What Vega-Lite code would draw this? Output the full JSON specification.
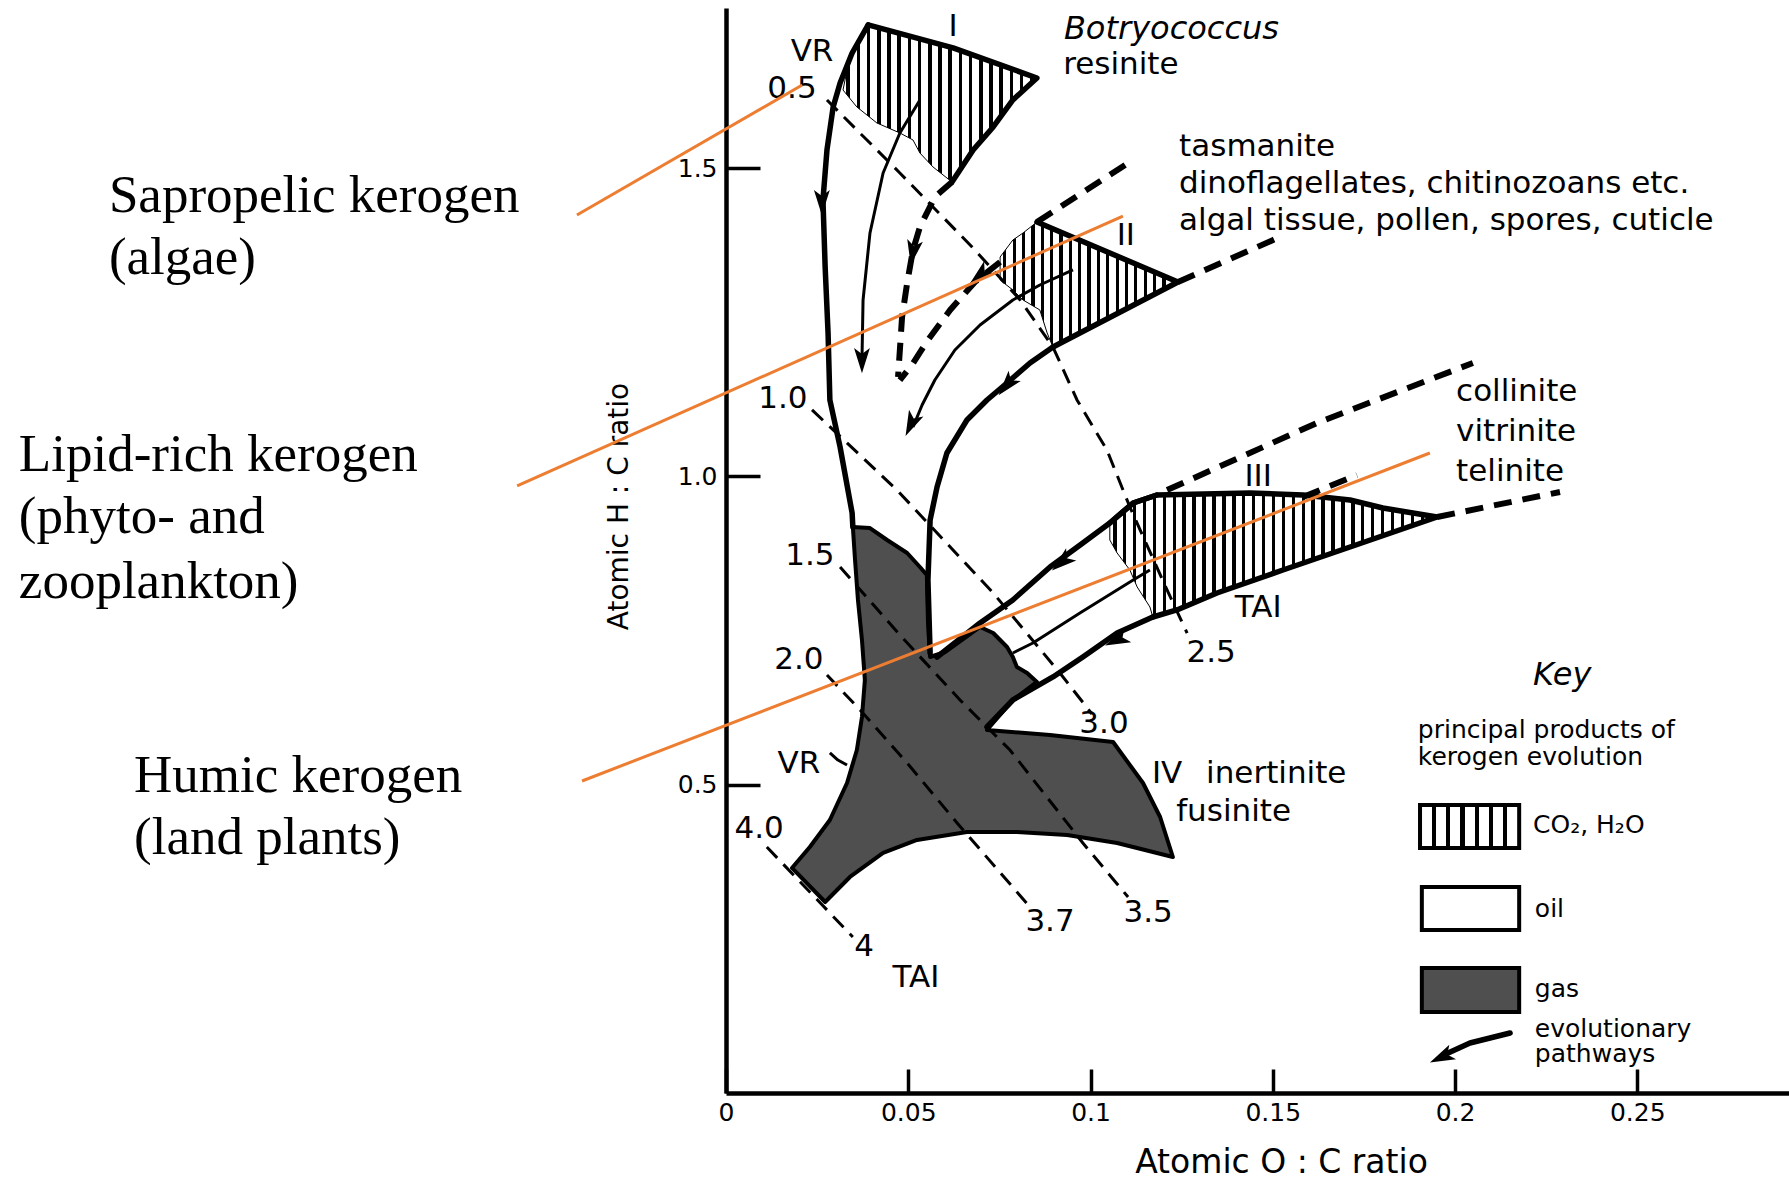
{
  "$schema": "https://vega.github.io/schema/vega-lite/v6.json",
  "width": 1064,
  "height": 1085,
  "autosize": {"type": "none"},
  "padding": {"left": 726, "top": 8, "right": 0, "bottom": 87},
  "background": "white",
  "config": {
    "view": {"stroke": null},
    "axis": {"domainColor": "black", "domainWidth": 4.5, "tickColor": "black", "tickWidth": 3.5, "labelColor": "black", "labelFont": "DejaVu Sans", "titleFont": "DejaVu Sans", "titleColor": "black", "titleFontWeight": "normal", "labelFlush": false, "grid": false}
  },
  "datasets": {
    "hatchI": [
      {"i":0,"x":0.0390,"y":1.7324},{"i":1,"x":0.0623,"y":1.6951},{"i":2,"x":0.0853,"y":1.6464},{"i":3,"x":0.0787,"y":1.6107},{"i":4,"x":0.0733,"y":1.5669},{"i":5,"x":0.0678,"y":1.5296},{"i":6,"x":0.0620,"y":1.4777},{"i":7,"x":0.0568,"y":1.5020},{"i":8,"x":0.0532,"y":1.5247},{"i":9,"x":0.0513,"y":1.5458},{"i":10,"x":0.0477,"y":1.5572},{"i":11,"x":0.0414,"y":1.5734},{"i":12,"x":0.0359,"y":1.5994},{"i":13,"x":0.0321,"y":1.6269},{"i":14,"x":0.0335,"y":1.6675}
    ],
    "hatchII": [
      {"i":0,"x":0.0853,"y":1.4128},{"i":1,"x":0.1240,"y":1.3155},{"i":2,"x":0.0897,"y":1.2100},{"i":3,"x":0.0881,"y":1.2328},{"i":4,"x":0.0861,"y":1.2701},{"i":5,"x":0.0815,"y":1.2863},{"i":6,"x":0.0787,"y":1.3025},{"i":7,"x":0.0752,"y":1.3187},{"i":8,"x":0.0752,"y":1.3560},{"i":9,"x":0.0787,"y":1.3836},{"i":10,"x":0.0815,"y":1.3950}
    ],
    "hatchIII": [
      {"i":0,"x":0.1053,"y":0.9246},{"i":1,"x":0.1117,"y":0.9570},{"i":2,"x":0.1182,"y":0.9700},{"i":3,"x":0.1438,"y":0.9732},{"i":4,"x":0.1583,"y":0.9700},{"i":5,"x":0.1712,"y":0.9619},{"i":6,"x":0.1802,"y":0.9489},{"i":7,"x":0.1951,"y":0.9343},{"i":8,"x":0.1712,"y":0.8856},{"i":9,"x":0.1528,"y":0.8483},{"i":10,"x":0.1347,"y":0.8110},{"i":11,"x":0.1237,"y":0.7835},{"i":12,"x":0.1171,"y":0.7721},{"i":13,"x":0.1163,"y":0.7883},{"i":14,"x":0.1128,"y":0.8208},{"i":15,"x":0.1108,"y":0.8483},{"i":16,"x":0.1073,"y":0.8759},{"i":17,"x":0.1053,"y":0.8970}
    ],
    "gas": [
      {"i":0,"x":0.0348,"y":0.9181},{"i":1,"x":0.0395,"y":0.9164},{"i":2,"x":0.0442,"y":0.8970},{"i":3,"x":0.0497,"y":0.8759},{"i":4,"x":0.0532,"y":0.8532},{"i":5,"x":0.0551,"y":0.8402},{"i":6,"x":0.0554,"y":0.7672},{"i":7,"x":0.0560,"y":0.7072},{"i":8,"x":0.0601,"y":0.7153},{"i":9,"x":0.0697,"y":0.7559},{"i":10,"x":0.0733,"y":0.7461},{"i":11,"x":0.0771,"y":0.7234},{"i":12,"x":0.0787,"y":0.7072},{"i":13,"x":0.0798,"y":0.6910},{"i":14,"x":0.0826,"y":0.6813},{"i":15,"x":0.0853,"y":0.6667},{"i":16,"x":0.0787,"y":0.6375},{"i":17,"x":0.0716,"y":0.5888},{"i":18,"x":0.0889,"y":0.5807},{"i":19,"x":0.1062,"y":0.5693},{"i":20,"x":0.1144,"y":0.5028},{"i":21,"x":0.1191,"y":0.4477},{"i":22,"x":0.1226,"y":0.3828},{"i":23,"x":0.1073,"y":0.4055},{"i":24,"x":0.0936,"y":0.4185},{"i":25,"x":0.0798,"y":0.4234},{"i":26,"x":0.0661,"y":0.4234},{"i":27,"x":0.0524,"y":0.4104},{"i":28,"x":0.0431,"y":0.3893},{"i":29,"x":0.0340,"y":0.3504},{"i":30,"x":0.0272,"y":0.3098},{"i":31,"x":0.0181,"y":0.3650},{"i":32,"x":0.0230,"y":0.3990},{"i":33,"x":0.0285,"y":0.4428},{"i":34,"x":0.0332,"y":0.5028},{"i":35,"x":0.0359,"y":0.5564},{"i":36,"x":0.0373,"y":0.6099},{"i":37,"x":0.0381,"y":0.6699},{"i":38,"x":0.0373,"y":0.7348},{"i":39,"x":0.0362,"y":0.7997},{"i":40,"x":0.0354,"y":0.8646}
    ],
    "isolines": [
      {"id":"VR0.5-TAI2.5","i":0,"x":0.0277,"y":1.6107},{"id":"VR0.5-TAI2.5","i":1,"x":0.0477,"y":1.4923},{"id":"VR0.5-TAI2.5","i":2,"x":0.0675,"y":1.3723},{"id":"VR0.5-TAI2.5","i":3,"x":0.0807,"y":1.2863},{"id":"VR0.5-TAI2.5","i":4,"x":0.0897,"y":1.2100},{"id":"VR0.5-TAI2.5","i":5,"x":0.0963,"y":1.1241},{"id":"VR0.5-TAI2.5","i":6,"x":0.1045,"y":1.0430},{"id":"VR0.5-TAI2.5","i":7,"x":0.1108,"y":0.9505},{"id":"VR0.5-TAI2.5","i":8,"x":0.1210,"y":0.8159},{"id":"VR0.5-TAI2.5","i":9,"x":0.1265,"y":0.7461},
      {"id":"VR1.0-TAI3.0","i":0,"x":0.0236,"y":1.1079},{"id":"VR1.0-TAI3.0","i":1,"x":0.0469,"y":0.9781},{"id":"VR1.0-TAI3.0","i":2,"x":0.0733,"y":0.8110},{"id":"VR1.0-TAI3.0","i":3,"x":0.0916,"y":0.6813},{"id":"VR1.0-TAI3.0","i":4,"x":0.1004,"y":0.6148},
      {"id":"VR1.5-TAI3.5","i":0,"x":0.0313,"y":0.8532},{"id":"VR1.5-TAI3.5","i":1,"x":0.0477,"y":0.7429},{"id":"VR1.5-TAI3.5","i":2,"x":0.0642,"y":0.6375},{"id":"VR1.5-TAI3.5","i":3,"x":0.0779,"y":0.5564},{"id":"VR1.5-TAI3.5","i":4,"x":0.0979,"y":0.4055},{"id":"VR1.5-TAI3.5","i":5,"x":0.1103,"y":0.3179},
      {"id":"VR2.0-TAI3.7","i":0,"x":0.0277,"y":0.6780},{"id":"VR2.0-TAI3.7","i":1,"x":0.0368,"y":0.6212},{"id":"VR2.0-TAI3.7","i":2,"x":0.0497,"y":0.5353},{"id":"VR2.0-TAI3.7","i":3,"x":0.0634,"y":0.4380},{"id":"VR2.0-TAI3.7","i":4,"x":0.0834,"y":0.3017},
      {"id":"VR4.0-TAI4","i":0,"x":0.0112,"y":0.3990},{"id":"VR4.0-TAI4","i":1,"x":0.0348,"y":0.2530}
    ],
    "thinPaths": [
      {"id":"P2","i":0,"x":0.0532,"y":1.6107},{"id":"P2","i":1,"x":0.0477,"y":1.5572},{"id":"P2","i":2,"x":0.0431,"y":1.4923},{"id":"P2","i":3,"x":0.0395,"y":1.3950},{"id":"P2","i":4,"x":0.0376,"y":1.2863},{"id":"P2","i":5,"x":0.0373,"y":1.1890},
      {"id":"P4","i":0,"x":0.0952,"y":1.3350},{"id":"P4","i":1,"x":0.0861,"y":1.3106},{"id":"P4","i":2,"x":0.0787,"y":1.2863},{"id":"P4","i":3,"x":0.0697,"y":1.2457},{"id":"P4","i":4,"x":0.0628,"y":1.2052},{"id":"P4","i":5,"x":0.0573,"y":1.1565},{"id":"P4","i":6,"x":0.0538,"y":1.1160},{"id":"P4","i":7,"x":0.0513,"y":1.0803},
      {"id":"P7","i":0,"x":0.1163,"y":0.8483},{"id":"P7","i":1,"x":0.1117,"y":0.8321},{"id":"P7","i":2,"x":0.0971,"y":0.7786},{"id":"P7","i":3,"x":0.0842,"y":0.7299},{"id":"P7","i":4,"x":0.0787,"y":0.7137},
      {"id":"VRleader","i":0,"x":0.0285,"y":0.5515},{"id":"VRleader","i":1,"x":0.0307,"y":0.5401},{"id":"VRleader","i":2,"x":0.0332,"y":0.5320}
    ],
    "thickPaths": [
      {"id":"P1","i":0,"x":0.0390,"y":1.7324},{"id":"P1","i":1,"x":0.0346,"y":1.6869},{"id":"P1","i":2,"x":0.0313,"y":1.6383},{"id":"P1","i":3,"x":0.0294,"y":1.5994},{"id":"P1","i":4,"x":0.0277,"y":1.5296},{"id":"P1","i":5,"x":0.0266,"y":1.4485},{"id":"P1","i":6,"x":0.0272,"y":1.3398},{"id":"P1","i":7,"x":0.0280,"y":1.2328},{"id":"P1","i":8,"x":0.0285,"y":1.1241},{"id":"P1","i":9,"x":0.0313,"y":1.0478},{"id":"P1","i":10,"x":0.0346,"y":0.9408},{"id":"P1","i":11,"x":0.0348,"y":0.9181},
      {"id":"P5","i":0,"x":0.0897,"y":1.2100},{"id":"P5","i":1,"x":0.0834,"y":1.1841},{"id":"P5","i":2,"x":0.0771,"y":1.1517},{"id":"P5","i":3,"x":0.0716,"y":1.1241},{"id":"P5","i":4,"x":0.0661,"y":1.0917},{"id":"P5","i":5,"x":0.0606,"y":1.0381},{"id":"P5","i":6,"x":0.0579,"y":0.9830},{"id":"P5","i":7,"x":0.0560,"y":0.9295},{"id":"P5","i":8,"x":0.0554,"y":0.8321},{"id":"P5","i":9,"x":0.0560,"y":0.7137},
      {"id":"P6","i":0,"x":0.1182,"y":0.9700},{"id":"P6","i":1,"x":0.1117,"y":0.9570},{"id":"P6","i":2,"x":0.1053,"y":0.9246},{"id":"P6","i":3,"x":0.0979,"y":0.8921},{"id":"P6","i":4,"x":0.0889,"y":0.8532},{"id":"P6","i":5,"x":0.0787,"y":0.7997},{"id":"P6","i":6,"x":0.0697,"y":0.7624},{"id":"P6","i":7,"x":0.0579,"y":0.7072},
      {"id":"P8","i":0,"x":0.1171,"y":0.7721},{"id":"P8","i":1,"x":0.1073,"y":0.7461},{"id":"P8","i":2,"x":0.0979,"y":0.7072},{"id":"P8","i":3,"x":0.0897,"y":0.6748},{"id":"P8","i":4,"x":0.0787,"y":0.6375},{"id":"P8","i":5,"x":0.0716,"y":0.5937},
      {"id":"Iedge","i":0,"x":0.0390,"y":1.7324},{"id":"Iedge","i":1,"x":0.0623,"y":1.6951},{"id":"Iedge","i":2,"x":0.0853,"y":1.6464},{"id":"Iedge","i":3,"x":0.0787,"y":1.6107},{"id":"Iedge","i":4,"x":0.0733,"y":1.5669},{"id":"Iedge","i":5,"x":0.0678,"y":1.5296},{"id":"Iedge","i":6,"x":0.0620,"y":1.4777},
      {"id":"IIedge","i":0,"x":0.0853,"y":1.4128},{"id":"IIedge","i":1,"x":0.1240,"y":1.3155},{"id":"IIedge","i":2,"x":0.0897,"y":1.2100},
      {"id":"IIIedge","i":0,"x":0.1053,"y":0.9246},{"id":"IIIedge","i":1,"x":0.1117,"y":0.9570},{"id":"IIIedge","i":2,"x":0.1182,"y":0.9700},{"id":"IIIedge","i":3,"x":0.1438,"y":0.9732},{"id":"IIIedge","i":4,"x":0.1583,"y":0.9700},{"id":"IIIedge","i":5,"x":0.1712,"y":0.9619},{"id":"IIIedge","i":6,"x":0.1802,"y":0.9489},{"id":"IIIedge","i":7,"x":0.1951,"y":0.9343},{"id":"IIIedge","i":8,"x":0.1712,"y":0.8856},{"id":"IIIedge","i":9,"x":0.1528,"y":0.8483},{"id":"IIIedge","i":10,"x":0.1347,"y":0.8110},{"id":"IIIedge","i":11,"x":0.1237,"y":0.7835},{"id":"IIIedge","i":12,"x":0.1171,"y":0.7721},
      {"id":"keyArrow","i":0,"x":0.2151,"y":0.0973},{"id":"keyArrow","i":1,"x":0.2041,"y":0.0811},{"id":"keyArrow","i":2,"x":0.1981,"y":0.0649}
    ],
    "dashedPaths": [
      {"id":"P3","i":0,"x":0.0620,"y":1.4777},{"id":"P3","i":1,"x":0.0573,"y":1.4534},{"id":"P3","i":2,"x":0.0532,"y":1.4047},{"id":"P3","i":3,"x":0.0513,"y":1.3674},{"id":"P3","i":4,"x":0.0497,"y":1.3139},{"id":"P3","i":5,"x":0.0483,"y":1.2587},{"id":"P3","i":6,"x":0.0477,"y":1.2052},{"id":"P3","i":7,"x":0.0472,"y":1.1614},
      {"id":"P4d","i":0,"x":0.0752,"y":1.3479},{"id":"P4d","i":1,"x":0.0683,"y":1.3155},{"id":"P4d","i":2,"x":0.0615,"y":1.2701},{"id":"P4d","i":3,"x":0.0554,"y":1.2214},{"id":"P4d","i":4,"x":0.0510,"y":1.1809},{"id":"P4d","i":5,"x":0.0477,"y":1.1565},
      {"id":"D1","i":0,"x":0.0853,"y":1.4128},{"id":"D1","i":1,"x":0.1108,"y":1.5101},
      {"id":"D2","i":0,"x":0.1240,"y":1.3155},{"id":"D2","i":1,"x":0.1520,"y":1.3885},
      {"id":"D3","i":0,"x":0.1210,"y":0.9781},{"id":"D3","i":1,"x":0.1621,"y":1.0868},{"id":"D3","i":2,"x":0.2049,"y":1.1841},
      {"id":"D4","i":0,"x":0.1951,"y":0.9343},{"id":"D4","i":1,"x":0.2288,"y":0.9749},
      {"id":"P7ext","i":0,"x":0.1583,"y":0.9667},{"id":"P7ext","i":1,"x":0.1731,"y":1.0024}
    ],
    "arrows": [
      {"x":0.0263,"y":1.4453,"heading":180},{"x":0.0373,"y":1.1890,"heading":180},{"x":0.0513,"y":1.3641,"heading":190},{"x":0.0508,"y":1.0852,"heading":205},{"x":0.0697,"y":1.3268,"heading":230},{"x":0.0771,"y":1.1484,"heading":220},{"x":0.0922,"y":0.8613,"heading":230},{"x":0.1073,"y":0.7348,"heading":245},{"x":0.1964,"y":0.0584,"heading":245}
    ],
    "keyBoxes": [
      {"product":"CO2, H2O","x":0.1904,"x2":0.2176,"y":0.4672,"y2":0.3974},
      {"product":"oil","x":0.1909,"x2":0.2176,"y":0.3341,"y2":0.2644},
      {"product":"gas","x":0.1909,"x2":0.2176,"y":0.2028,"y2":0.1314}
    ],
    "notes": [
      {"x":-0.1693,"y":1.4290,"text":"Sapropelic kerogen"},{"x":-0.1693,"y":1.3285,"text":"(algae)"},
      {"x":-0.1940,"y":1.0089,"text":"Lipid-rich kerogen"},{"x":-0.1940,"y":0.9084,"text":"(phyto- and"},{"x":-0.1940,"y":0.8029,"text":"zooplankton)"},
      {"x":-0.1624,"y":0.4882,"text":"Humic kerogen"},{"x":-0.1624,"y":0.3877,"text":"(land plants)"}
    ],
    "pointers": [
      {"id":"A","i":0,"x":-0.0409,"y":1.4242},{"id":"A","i":1,"x":0.0209,"y":1.6350},
      {"id":"B","i":0,"x":-0.0573,"y":0.9846},{"id":"B","i":1,"x":0.1089,"y":1.4225},
      {"id":"C","i":0,"x":-0.0395,"y":0.5061},{"id":"C","i":1,"x":0.1931,"y":1.0381}
    ],
    "labelsCenter": [
      {"x":0.0623,"y":1.7291,"text":"I"},{"x":0.0236,"y":1.6886,"text":"VR"},{"x":0.0181,"y":1.6285,"text":"0.5"},{"x":0.0156,"y":1.1257,"text":"1.0"},{"x":0.0230,"y":0.8710,"text":"1.5"},{"x":0.0200,"y":0.7024,"text":"2.0"},{"x":0.0200,"y":0.5337,"text":"VR"},{"x":0.0091,"y":0.4282,"text":"4.0"},{"x":0.0379,"y":0.2368,"text":"4"},{"x":0.0521,"y":0.1865,"text":"TAI"},{"x":0.0889,"y":0.2774,"text":"3.7"},{"x":0.1158,"y":0.2920,"text":"3.5"},{"x":0.1037,"y":0.5985,"text":"3.0"},{"x":0.1331,"y":0.7137,"text":"2.5"},{"x":0.1460,"y":0.7867,"text":"TAI"},{"x":0.1097,"y":1.3901,"text":"II"},{"x":0.1460,"y":0.9992,"text":"III"},{"x":0.1210,"y":0.5174,"text":"IV"}
    ],
    "labelsLeft": [
      {"x":0.0925,"y":1.6670,"text":"resinite"},{"x":0.1243,"y":1.5345,"text":"tasmanite"},{"x":0.1243,"y":1.4745,"text":"dinoflagellates, chitinozoans etc."},{"x":0.1243,"y":1.4149,"text":"algal tissue, pollen, spores, cuticle"},{"x":0.2003,"y":1.1371,"text":"collinite"},{"x":0.2003,"y":1.0715,"text":"vitrinite"},{"x":0.2003,"y":1.0066,"text":"telinite"},{"x":0.1317,"y":0.5174,"text":"inertinite"},{"x":0.1235,"y":0.4558,"text":"fusinite"}
    ],
    "labelsItalic": [
      {"x":0.0927,"y":1.7259,"text":"Botryococcus"},{"x":0.2214,"y":0.6780,"text":"Key"}
    ],
    "keyText": [
      {"x":0.1898,"y":0.5888,"text":"principal products of"},{"x":0.1898,"y":0.5450,"text":"kerogen evolution"},{"x":0.2214,"y":0.4347,"text":"CO₂, H₂O"},{"x":0.2219,"y":0.2985,"text":"oil"},{"x":0.2219,"y":0.1687,"text":"gas"},{"x":0.2219,"y":0.1038,"text":"evolutionary"},{"x":0.2219,"y":0.0633,"text":"pathways"}
    ]
  },
  "encoding": {
    "x": {"field": "x", "type": "quantitative", "scale": {"domain": [0, 0.2919], "nice": false, "zero": false},
      "axis": {"values": [0, 0.05, 0.1, 0.15, 0.2, 0.25], "format": "~g", "title": "Atomic O : C ratio", "tickSize": -24, "labelPadding": 31, "labelFontSize": 25, "titleFontSize": 33, "titleX": 555, "titleY": 79, "titleAlign": "center", "titleBaseline": "alphabetic"}},
    "y": {"field": "y", "type": "quantitative", "scale": {"domain": [0, 1.7599], "nice": false, "zero": false},
      "axis": {"values": [0.5, 1, 1.5], "format": ".1f", "title": "Atomic H : C ratio", "tickSize": -34, "labelPadding": 43, "labelFontSize": 25, "titleFontSize": 28, "titleX": -99, "titleY": 498, "titleAngle": -90, "titleAlign": "center", "titleBaseline": "alphabetic"}}
  },
  "layer": [
    {"data": {"name": "hatchI"}, "mark": {"type": "line", "interpolate": "linear-closed", "stroke": "black", "strokeWidth": 1,
      "fill": {"gradient": "linear", "x1": 0, "y1": 0, "x2": 1, "y2": 0, "stops": [
        {"offset":0,"color":"#fff"},
        {"offset":0.0171,"color":"#fff"},{"offset":0.0171,"color":"#000"},{"offset":0.0355,"color":"#000"},{"offset":0.0355,"color":"#fff"},
        {"offset":0.0697,"color":"#fff"},{"offset":0.0697,"color":"#000"},{"offset":0.0881,"color":"#000"},{"offset":0.0881,"color":"#fff"},
        {"offset":0.1224,"color":"#fff"},{"offset":0.1224,"color":"#000"},{"offset":0.1408,"color":"#000"},{"offset":0.1408,"color":"#fff"},
        {"offset":0.1750,"color":"#fff"},{"offset":0.1750,"color":"#000"},{"offset":0.1934,"color":"#000"},{"offset":0.1934,"color":"#fff"},
        {"offset":0.2276,"color":"#fff"},{"offset":0.2276,"color":"#000"},{"offset":0.2460,"color":"#000"},{"offset":0.2460,"color":"#fff"},
        {"offset":0.2803,"color":"#fff"},{"offset":0.2803,"color":"#000"},{"offset":0.2987,"color":"#000"},{"offset":0.2987,"color":"#fff"},
        {"offset":0.3329,"color":"#fff"},{"offset":0.3329,"color":"#000"},{"offset":0.3513,"color":"#000"},{"offset":0.3513,"color":"#fff"},
        {"offset":0.3855,"color":"#fff"},{"offset":0.3855,"color":"#000"},{"offset":0.4039,"color":"#000"},{"offset":0.4039,"color":"#fff"},
        {"offset":0.4382,"color":"#fff"},{"offset":0.4382,"color":"#000"},{"offset":0.4566,"color":"#000"},{"offset":0.4566,"color":"#fff"},
        {"offset":0.4908,"color":"#fff"},{"offset":0.4908,"color":"#000"},{"offset":0.5092,"color":"#000"},{"offset":0.5092,"color":"#fff"},
        {"offset":0.5434,"color":"#fff"},{"offset":0.5434,"color":"#000"},{"offset":0.5618,"color":"#000"},{"offset":0.5618,"color":"#fff"},
        {"offset":0.5961,"color":"#fff"},{"offset":0.5961,"color":"#000"},{"offset":0.6145,"color":"#000"},{"offset":0.6145,"color":"#fff"},
        {"offset":0.6487,"color":"#fff"},{"offset":0.6487,"color":"#000"},{"offset":0.6671,"color":"#000"},{"offset":0.6671,"color":"#fff"},
        {"offset":0.7013,"color":"#fff"},{"offset":0.7013,"color":"#000"},{"offset":0.7197,"color":"#000"},{"offset":0.7197,"color":"#fff"},
        {"offset":0.7539,"color":"#fff"},{"offset":0.7539,"color":"#000"},{"offset":0.7723,"color":"#000"},{"offset":0.7723,"color":"#fff"},
        {"offset":0.8066,"color":"#fff"},{"offset":0.8066,"color":"#000"},{"offset":0.8250,"color":"#000"},{"offset":0.8250,"color":"#fff"},
        {"offset":0.8592,"color":"#fff"},{"offset":0.8592,"color":"#000"},{"offset":0.8776,"color":"#000"},{"offset":0.8776,"color":"#fff"},
        {"offset":0.9118,"color":"#fff"},{"offset":0.9118,"color":"#000"},{"offset":0.9302,"color":"#000"},{"offset":0.9302,"color":"#fff"},
        {"offset":0.9645,"color":"#fff"},{"offset":0.9645,"color":"#000"},{"offset":0.9829,"color":"#000"},{"offset":0.9829,"color":"#fff"},
        {"offset":1,"color":"#fff"}]}},
      "encoding": {"order": {"field": "i", "type": "quantitative"}}},
    {"data": {"name": "hatchII"}, "mark": {"type": "line", "interpolate": "linear-closed", "stroke": "black", "strokeWidth": 1,
      "fill": {"gradient": "linear", "x1": 0, "y1": 0, "x2": 1, "y2": 0, "stops": [
        {"offset":0,"color":"#fff"},
        {"offset":0.0171,"color":"#fff"},{"offset":0.0171,"color":"#000"},{"offset":0.0355,"color":"#000"},{"offset":0.0355,"color":"#fff"},
        {"offset":0.0697,"color":"#fff"},{"offset":0.0697,"color":"#000"},{"offset":0.0881,"color":"#000"},{"offset":0.0881,"color":"#fff"},
        {"offset":0.1224,"color":"#fff"},{"offset":0.1224,"color":"#000"},{"offset":0.1408,"color":"#000"},{"offset":0.1408,"color":"#fff"},
        {"offset":0.1750,"color":"#fff"},{"offset":0.1750,"color":"#000"},{"offset":0.1934,"color":"#000"},{"offset":0.1934,"color":"#fff"},
        {"offset":0.2276,"color":"#fff"},{"offset":0.2276,"color":"#000"},{"offset":0.2460,"color":"#000"},{"offset":0.2460,"color":"#fff"},
        {"offset":0.2803,"color":"#fff"},{"offset":0.2803,"color":"#000"},{"offset":0.2987,"color":"#000"},{"offset":0.2987,"color":"#fff"},
        {"offset":0.3329,"color":"#fff"},{"offset":0.3329,"color":"#000"},{"offset":0.3513,"color":"#000"},{"offset":0.3513,"color":"#fff"},
        {"offset":0.3855,"color":"#fff"},{"offset":0.3855,"color":"#000"},{"offset":0.4039,"color":"#000"},{"offset":0.4039,"color":"#fff"},
        {"offset":0.4382,"color":"#fff"},{"offset":0.4382,"color":"#000"},{"offset":0.4566,"color":"#000"},{"offset":0.4566,"color":"#fff"},
        {"offset":0.4908,"color":"#fff"},{"offset":0.4908,"color":"#000"},{"offset":0.5092,"color":"#000"},{"offset":0.5092,"color":"#fff"},
        {"offset":0.5434,"color":"#fff"},{"offset":0.5434,"color":"#000"},{"offset":0.5618,"color":"#000"},{"offset":0.5618,"color":"#fff"},
        {"offset":0.5961,"color":"#fff"},{"offset":0.5961,"color":"#000"},{"offset":0.6145,"color":"#000"},{"offset":0.6145,"color":"#fff"},
        {"offset":0.6487,"color":"#fff"},{"offset":0.6487,"color":"#000"},{"offset":0.6671,"color":"#000"},{"offset":0.6671,"color":"#fff"},
        {"offset":0.7013,"color":"#fff"},{"offset":0.7013,"color":"#000"},{"offset":0.7197,"color":"#000"},{"offset":0.7197,"color":"#fff"},
        {"offset":0.7539,"color":"#fff"},{"offset":0.7539,"color":"#000"},{"offset":0.7723,"color":"#000"},{"offset":0.7723,"color":"#fff"},
        {"offset":0.8066,"color":"#fff"},{"offset":0.8066,"color":"#000"},{"offset":0.8250,"color":"#000"},{"offset":0.8250,"color":"#fff"},
        {"offset":0.8592,"color":"#fff"},{"offset":0.8592,"color":"#000"},{"offset":0.8776,"color":"#000"},{"offset":0.8776,"color":"#fff"},
        {"offset":0.9118,"color":"#fff"},{"offset":0.9118,"color":"#000"},{"offset":0.9302,"color":"#000"},{"offset":0.9302,"color":"#fff"},
        {"offset":0.9645,"color":"#fff"},{"offset":0.9645,"color":"#000"},{"offset":0.9829,"color":"#000"},{"offset":0.9829,"color":"#fff"},
        {"offset":1,"color":"#fff"}]}},
      "encoding": {"order": {"field": "i", "type": "quantitative"}}},
    {"data": {"name": "hatchIII"}, "mark": {"type": "line", "interpolate": "linear-closed", "stroke": "black", "strokeWidth": 1,
      "fill": {"gradient": "linear", "x1": 0, "y1": 0, "x2": 1, "y2": 0, "stops": [
        {"offset":0,"color":"#fff"},
        {"offset":0.00985,"color":"#fff"},{"offset":0.00985,"color":"#000"},{"offset":0.02045,"color":"#000"},{"offset":0.02045,"color":"#fff"},
        {"offset":0.04015,"color":"#fff"},{"offset":0.04015,"color":"#000"},{"offset":0.05076,"color":"#000"},{"offset":0.05076,"color":"#fff"},
        {"offset":0.07045,"color":"#fff"},{"offset":0.07045,"color":"#000"},{"offset":0.08106,"color":"#000"},{"offset":0.08106,"color":"#fff"},
        {"offset":0.10076,"color":"#fff"},{"offset":0.10076,"color":"#000"},{"offset":0.11136,"color":"#000"},{"offset":0.11136,"color":"#fff"},
        {"offset":0.13106,"color":"#fff"},{"offset":0.13106,"color":"#000"},{"offset":0.14167,"color":"#000"},{"offset":0.14167,"color":"#fff"},
        {"offset":0.16136,"color":"#fff"},{"offset":0.16136,"color":"#000"},{"offset":0.17197,"color":"#000"},{"offset":0.17197,"color":"#fff"},
        {"offset":0.19167,"color":"#fff"},{"offset":0.19167,"color":"#000"},{"offset":0.20227,"color":"#000"},{"offset":0.20227,"color":"#fff"},
        {"offset":0.22197,"color":"#fff"},{"offset":0.22197,"color":"#000"},{"offset":0.23258,"color":"#000"},{"offset":0.23258,"color":"#fff"},
        {"offset":0.25227,"color":"#fff"},{"offset":0.25227,"color":"#000"},{"offset":0.26288,"color":"#000"},{"offset":0.26288,"color":"#fff"},
        {"offset":0.28258,"color":"#fff"},{"offset":0.28258,"color":"#000"},{"offset":0.29318,"color":"#000"},{"offset":0.29318,"color":"#fff"},
        {"offset":0.31288,"color":"#fff"},{"offset":0.31288,"color":"#000"},{"offset":0.32348,"color":"#000"},{"offset":0.32348,"color":"#fff"},
        {"offset":0.34318,"color":"#fff"},{"offset":0.34318,"color":"#000"},{"offset":0.35379,"color":"#000"},{"offset":0.35379,"color":"#fff"},
        {"offset":0.37348,"color":"#fff"},{"offset":0.37348,"color":"#000"},{"offset":0.38409,"color":"#000"},{"offset":0.38409,"color":"#fff"},
        {"offset":0.40379,"color":"#fff"},{"offset":0.40379,"color":"#000"},{"offset":0.41439,"color":"#000"},{"offset":0.41439,"color":"#fff"},
        {"offset":0.43409,"color":"#fff"},{"offset":0.43409,"color":"#000"},{"offset":0.44470,"color":"#000"},{"offset":0.44470,"color":"#fff"},
        {"offset":0.46439,"color":"#fff"},{"offset":0.46439,"color":"#000"},{"offset":0.47500,"color":"#000"},{"offset":0.47500,"color":"#fff"},
        {"offset":0.49470,"color":"#fff"},{"offset":0.49470,"color":"#000"},{"offset":0.50530,"color":"#000"},{"offset":0.50530,"color":"#fff"},
        {"offset":0.52500,"color":"#fff"},{"offset":0.52500,"color":"#000"},{"offset":0.53561,"color":"#000"},{"offset":0.53561,"color":"#fff"},
        {"offset":0.55530,"color":"#fff"},{"offset":0.55530,"color":"#000"},{"offset":0.56591,"color":"#000"},{"offset":0.56591,"color":"#fff"},
        {"offset":0.58561,"color":"#fff"},{"offset":0.58561,"color":"#000"},{"offset":0.59621,"color":"#000"},{"offset":0.59621,"color":"#fff"},
        {"offset":0.61591,"color":"#fff"},{"offset":0.61591,"color":"#000"},{"offset":0.62652,"color":"#000"},{"offset":0.62652,"color":"#fff"},
        {"offset":0.64621,"color":"#fff"},{"offset":0.64621,"color":"#000"},{"offset":0.65682,"color":"#000"},{"offset":0.65682,"color":"#fff"},
        {"offset":0.67652,"color":"#fff"},{"offset":0.67652,"color":"#000"},{"offset":0.68712,"color":"#000"},{"offset":0.68712,"color":"#fff"},
        {"offset":0.70682,"color":"#fff"},{"offset":0.70682,"color":"#000"},{"offset":0.71742,"color":"#000"},{"offset":0.71742,"color":"#fff"},
        {"offset":0.73712,"color":"#fff"},{"offset":0.73712,"color":"#000"},{"offset":0.74773,"color":"#000"},{"offset":0.74773,"color":"#fff"},
        {"offset":0.76742,"color":"#fff"},{"offset":0.76742,"color":"#000"},{"offset":0.77803,"color":"#000"},{"offset":0.77803,"color":"#fff"},
        {"offset":0.79773,"color":"#fff"},{"offset":0.79773,"color":"#000"},{"offset":0.80833,"color":"#000"},{"offset":0.80833,"color":"#fff"},
        {"offset":0.82803,"color":"#fff"},{"offset":0.82803,"color":"#000"},{"offset":0.83864,"color":"#000"},{"offset":0.83864,"color":"#fff"},
        {"offset":0.85833,"color":"#fff"},{"offset":0.85833,"color":"#000"},{"offset":0.86894,"color":"#000"},{"offset":0.86894,"color":"#fff"},
        {"offset":0.88864,"color":"#fff"},{"offset":0.88864,"color":"#000"},{"offset":0.89924,"color":"#000"},{"offset":0.89924,"color":"#fff"},
        {"offset":0.91894,"color":"#fff"},{"offset":0.91894,"color":"#000"},{"offset":0.92955,"color":"#000"},{"offset":0.92955,"color":"#fff"},
        {"offset":0.94924,"color":"#fff"},{"offset":0.94924,"color":"#000"},{"offset":0.95985,"color":"#000"},{"offset":0.95985,"color":"#fff"},
        {"offset":0.97955,"color":"#fff"},{"offset":0.97955,"color":"#000"},{"offset":0.99015,"color":"#000"},{"offset":0.99015,"color":"#fff"},
        {"offset":1,"color":"#fff"}]}},
      "encoding": {"order": {"field": "i", "type": "quantitative"}}},
    {"data": {"name": "gas"}, "mark": {"type": "line", "interpolate": "linear-closed", "stroke": "black", "strokeWidth": 4, "strokeJoin": "round", "fill": "#4f4f4f"},
      "encoding": {"order": {"field": "i", "type": "quantitative"}}},
    {"data": {"name": "isolines"}, "mark": {"type": "line", "color": "black", "strokeWidth": 3, "strokeDash": [15, 9]},
      "encoding": {"detail": {"field": "id"}, "order": {"field": "i", "type": "quantitative"}}},
    {"data": {"name": "thinPaths"}, "mark": {"type": "line", "color": "black", "strokeWidth": 3, "strokeJoin": "round"},
      "encoding": {"detail": {"field": "id"}, "order": {"field": "i", "type": "quantitative"}}},
    {"data": {"name": "thickPaths"}, "mark": {"type": "line", "color": "black", "strokeWidth": 5.5, "strokeJoin": "round", "strokeCap": "round"},
      "encoding": {"detail": {"field": "id"}, "order": {"field": "i", "type": "quantitative"}}},
    {"data": {"name": "dashedPaths"}, "mark": {"type": "line", "color": "black", "strokeWidth": 6, "strokeDash": [18, 11]},
      "encoding": {"detail": {"field": "id"}, "order": {"field": "i", "type": "quantitative"}}},
    {"data": {"name": "arrows"}, "mark": {"type": "point", "shape": "M0,-1L0.6,0.9L0,0.45L-0.6,0.9Z", "filled": true, "color": "black", "opacity": 1, "size": 700},
      "encoding": {"angle": {"field": "heading", "type": "quantitative", "scale": {"domain": [0, 360], "range": [0, 360]}}}},
    {"data": {"name": "keyBoxes"}, "transform": [{"filter": "datum.product === 'CO2, H2O'"}],
      "mark": {"type": "rect", "stroke": "black", "strokeWidth": 4,
        "fill": {"gradient": "linear", "x1": 0, "y1": 0, "x2": 1, "y2": 0, "stops": [
          {"offset":0,"color":"#fff"},
          {"offset":0.1214,"color":"#fff"},{"offset":0.1214,"color":"#000"},{"offset":0.1643,"color":"#000"},{"offset":0.1643,"color":"#fff"},
          {"offset":0.2643,"color":"#fff"},{"offset":0.2643,"color":"#000"},{"offset":0.3071,"color":"#000"},{"offset":0.3071,"color":"#fff"},
          {"offset":0.4071,"color":"#fff"},{"offset":0.4071,"color":"#000"},{"offset":0.4500,"color":"#000"},{"offset":0.4500,"color":"#fff"},
          {"offset":0.5500,"color":"#fff"},{"offset":0.5500,"color":"#000"},{"offset":0.5929,"color":"#000"},{"offset":0.5929,"color":"#fff"},
          {"offset":0.6929,"color":"#fff"},{"offset":0.6929,"color":"#000"},{"offset":0.7357,"color":"#000"},{"offset":0.7357,"color":"#fff"},
          {"offset":0.8357,"color":"#fff"},{"offset":0.8357,"color":"#000"},{"offset":0.8786,"color":"#000"},{"offset":0.8786,"color":"#fff"},
          {"offset":1,"color":"#fff"}]}},
      "encoding": {"x2": {"field": "x2"}, "y2": {"field": "y2"}}},
    {"data": {"name": "keyBoxes"}, "transform": [{"filter": "datum.product === 'oil'"}],
      "mark": {"type": "rect", "stroke": "black", "strokeWidth": 4, "fill": "white"},
      "encoding": {"x2": {"field": "x2"}, "y2": {"field": "y2"}}},
    {"data": {"name": "keyBoxes"}, "transform": [{"filter": "datum.product === 'gas'"}],
      "mark": {"type": "rect", "stroke": "black", "strokeWidth": 4, "fill": "#4f4f4f"},
      "encoding": {"x2": {"field": "x2"}, "y2": {"field": "y2"}}},
    {"data": {"name": "notes"}, "mark": {"type": "text", "font": "Liberation Serif", "fontSize": 53, "align": "left", "baseline": "alphabetic", "color": "black"},
      "encoding": {"text": {"field": "text"}}},
    {"data": {"name": "labelsCenter"}, "mark": {"type": "text", "font": "DejaVu Sans", "fontSize": 31, "align": "center", "baseline": "middle", "color": "black"},
      "encoding": {"text": {"field": "text"}}},
    {"data": {"name": "labelsLeft"}, "mark": {"type": "text", "font": "DejaVu Sans", "fontSize": 31, "align": "left", "baseline": "middle", "color": "black"},
      "encoding": {"text": {"field": "text"}}},
    {"data": {"name": "labelsItalic"}, "mark": {"type": "text", "font": "DejaVu Sans", "fontStyle": "italic", "fontSize": 32, "align": "left", "baseline": "middle", "color": "black"},
      "encoding": {"text": {"field": "text"}}},
    {"data": {"name": "keyText"}, "mark": {"type": "text", "font": "DejaVu Sans", "fontSize": 25, "align": "left", "baseline": "middle", "color": "black"},
      "encoding": {"text": {"field": "text"}}},
    {"data": {"name": "pointers"}, "mark": {"type": "line", "color": "#ED7D31", "strokeWidth": 3},
      "encoding": {"detail": {"field": "id"}, "order": {"field": "i", "type": "quantitative"}}}
  ]
}
